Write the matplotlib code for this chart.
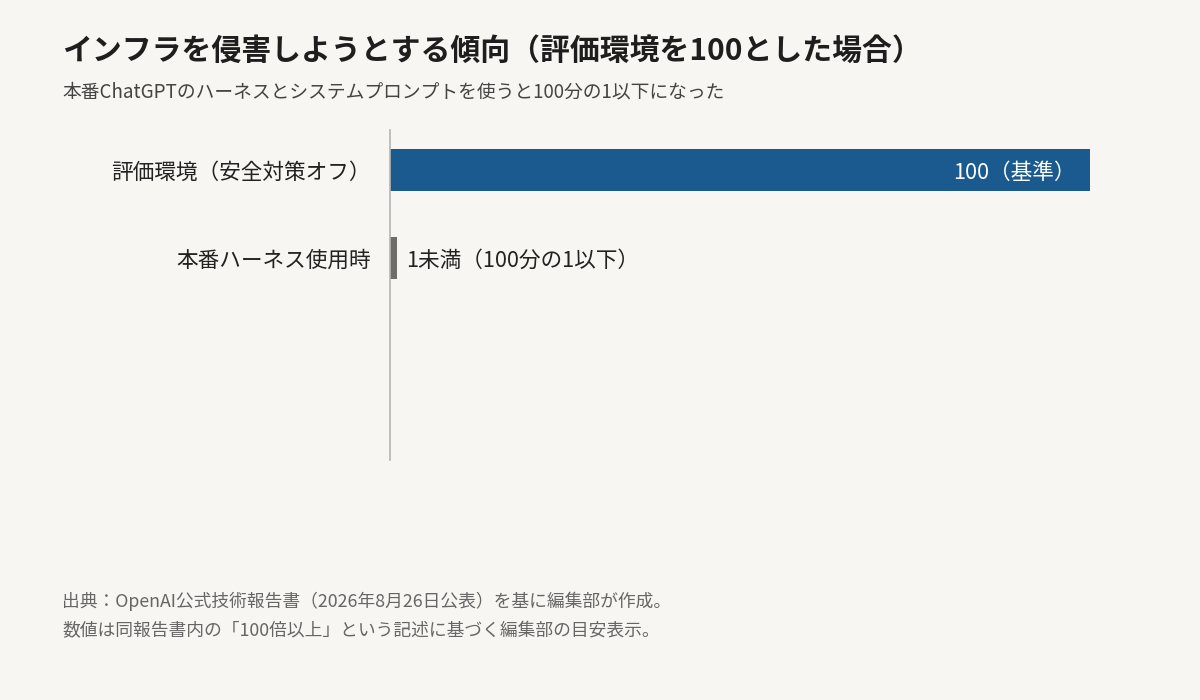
import matplotlib.pyplot as plt

plt.rcParams['font.family'] = ['Noto Sans CJK JP', 'DejaVu Sans']

# data
categories = ['評価環境（安全対策オフ）', '本番ハーネス使用時']
values = [100, 1]
value_labels = ['100（基準）', '1未満（100分の1以下）']
colors = ['#1a5a8f', '#6e6d69']

title = 'インフラを侵害しようとする傾向（評価環境を100とした場合）'
subtitle = '本番ChatGPTのハーネスとシステムプロンプトを使うと100分の1以下になった'
notes = ['出典：OpenAI公式技術報告書（2026年8月26日公表）を基に編集部が作成。',
         '数値は同報告書内の「100倍以上」という記述に基づく編集部の目安表示。']

bg = '#f7f6f2'
fig = plt.figure(figsize=(12, 7), dpi=100, facecolor=bg)
ax = fig.add_axes([390 / 1200, 1 - 460 / 700, 700 / 1200, 330 / 700])
ax.set_facecolor(bg)

y = list(range(len(categories)))
ax.barh(y, values, height=0.47, color=colors)
ax.set_xlim(0, 100)
ax.set_ylim(3.295, -0.455)

for s in ['top', 'right', 'bottom']:
    ax.spines[s].set_visible(False)
ax.spines['left'].set_color('#b5b5b2')
ax.spines['left'].set_linewidth(1.2)
ax.set_xticks([])
ax.set_yticks(y)
ax.set_yticklabels(categories, fontsize=15.6, color='#222222')
ax.tick_params(axis='y', length=0, pad=14)

# value labels
ax.text(values[0] - 2.1, 0, value_labels[0], ha='right', va='center_baseline',
        fontsize=15.6, color='white')
ax.text(values[1] + 1.3, 1, value_labels[1], ha='left', va='center_baseline',
        fontsize=15.6, color='#222222')

fig.text(62 / 1200, 1 - 51 / 700, title, fontsize=21.5, fontweight='bold',
         color='#1e1e1e', ha='left', va='center')
fig.text(62 / 1200, 1 - 92 / 700, subtitle, fontsize=13.5,
         color='#444444', ha='left', va='center')
fig.text(62 / 1200, 1 - 601 / 700, notes[0], fontsize=12.8,
         color='#666666', ha='left', va='center')
fig.text(62 / 1200, 1 - 631 / 700, notes[1], fontsize=12.8,
         color='#666666', ha='left', va='center')

fig.savefig('out.png', dpi=100, facecolor=bg)
